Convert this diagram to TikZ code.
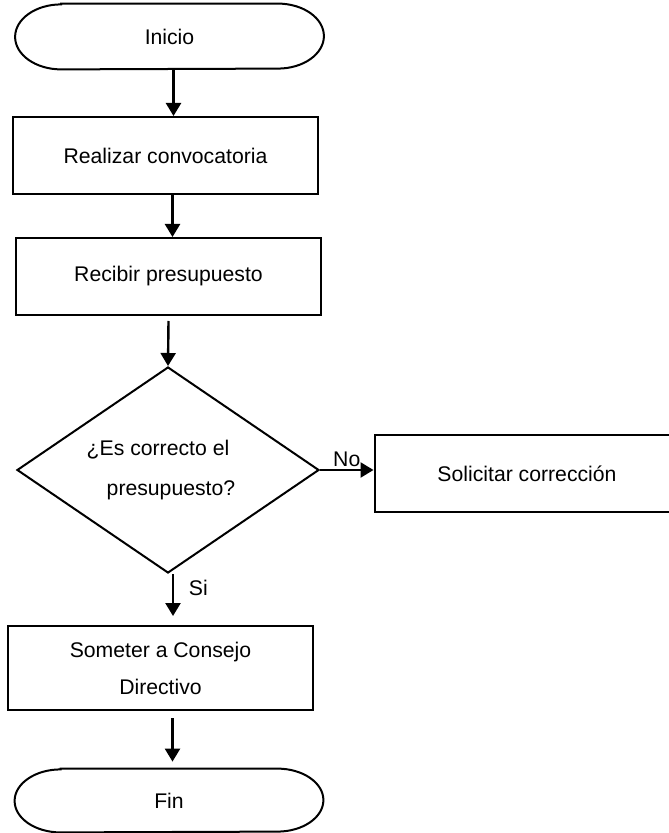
\documentclass[tikz,border=0pt]{standalone}
\usepackage{fontspec}
\setmainfont{Liberation Sans}
\usetikzlibrary{shapes.geometric,arrows.meta}
\tikzset{
	caja/.style={draw, line width=1pt, rectangle, minimum width=152.5pt, minimum height=38.5pt, align=center},
	terminal/.style={rectangle, minimum width=154pt, minimum height=32.5pt},
	pregunta/.style={draw, line width=1pt, diamond, aspect=1.47, inner sep=0pt, minimum width=151pt, minimum height=103pt, align=left},
	flecha/.style={line width=1.2pt, -{Triangle[length=6.5pt,width=7.5pt]}}
}
\def\terminalborde(#1)(#2:#3){\draw[line width=1pt] ([xshift=#2]#1.north west) -- ([xshift=-#2]#1.north east) arc (90:-90:#2 and #3) -- ([xshift=#2]#1.south west) arc (270:90:#2 and #3) -- cycle;}

\begin{document}
\begin{tikzpicture}[x=0.5pt, y=-0.5pt, font=\fontsize{10.6}{18.5}\selectfont]
			%%%%% START %%%%%
			
			\useasboundingbox (0, 0) rectangle (668, 833);
			
			\node[terminal] (inicio) at (169.5, 36.5) {Inicio};
			\terminalborde(inicio)(23pt:16.25pt);
			\node[caja] (convocatoria) at (165.5, 155.5) {Realizar convocatoria};
			\node[caja] (presupuesto) at (168.5, 276.5) {Recibir presupuesto};
			
			\node[pregunta, font=\fontsize{10.6}{20}\selectfont] (decision) at (168, 470) {¿Es correcto el\hspace*{10pt}\\\hspace*{10pt}presupuesto?};
			\node[caja] (correccion) at (527, 473.5) {Solicitar corrección};
			
			\node[caja, minimum height=42pt] (consejo) at (160.5, 668) {Someter a Consejo\\Directivo};
			\node[terminal, minimum height=31.5pt] (fin) at (169, 800.5) {Fin};
			\terminalborde(fin)(23pt:15.75pt);
			
			\draw[flecha] ([xshift=2pt]inicio.south) -- ([xshift=2pt]inicio.south |- convocatoria.north);
			\draw[flecha] ([xshift=3.5pt]convocatoria.south) -- ([xshift=3.5pt]convocatoria.south |- presupuesto.north);
			\draw[flecha] ([yshift=-2.5pt]presupuesto.south) -- (decision.north);
			
			\draw[flecha] (decision.east) -- node[above, inner sep=1pt] (no) {No} (decision.east -| correccion.west);
			\draw[flecha, shorten >=4.5pt] ([xshift=2.5pt]decision.south) -- node[right, pos=0.27, xshift=4pt] (si) {Si} ([xshift=2.5pt]decision.south |- consejo.north);
			
			\draw[flecha, shorten >=3.5pt] ([xshift=6pt, yshift=-3.5pt]consejo.south) -- ([xshift=6pt]consejo.south |- fin.north);
			
			%%%%% END %%%%%
		\end{tikzpicture}
\end{document}
